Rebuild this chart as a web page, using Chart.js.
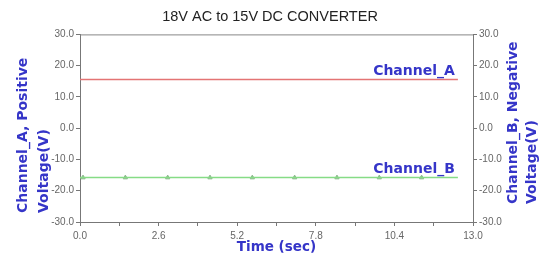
<!DOCTYPE html>
<html>
<head>
<meta charset="utf-8">
<script src="https://cdn.jsdelivr.net/npm/chart.js@4"></script>
<style>
  html, body { margin: 0; padding: 0; background: #fff; }
  #wrap { width: 540px; height: 260px; }
</style>
</head>
<body>
<div id="wrap"><canvas id="conv"></canvas></div>
<script>
const chATime = [0, 12.5];
const chAVolt = [15.6, 15.6];
const chBTime = [0, 12.5];
const chBVolt = [-15.8, -15.8];
const chBMarkTime = [0.1, 1.5, 2.9, 4.3, 5.7, 7.1, 8.5, 9.9, 11.3];
const chBMarkVolt = [-15.8, -15.8, -15.8, -15.8, -15.8, -15.8, -15.8, -15.8, -15.8];
const xTicks = [0, 1.3, 2.6, 3.9, 5.2, 6.5, 7.8, 9.1, 10.4, 11.7, 13.0];
const yTicks = [-30, -20, -10, 0, 10, 20, 30];

const blue = '#3535c8';
const labelFont = 'bold 14px "DejaVu Sans", Verdana, sans-serif';

const pts = (xs, ys) => xs.map((x, i) => ({ x: x, y: ys[i] }));

// extra texts: two-line rotated axis titles, series labels and the plot frame top
const extras = {
  id: 'extras',
  afterDraw(chart) {
    const { ctx, chartArea: a, scales } = chart;
    ctx.save();
    ctx.strokeStyle = '#888';
    ctx.lineWidth = 1;
    ctx.beginPath();
    ctx.moveTo(a.left, a.top + 0.5);
    ctx.lineTo(a.right, a.top + 0.5);
    ctx.stroke();

    ctx.fillStyle = blue;
    ctx.font = labelFont;
    ctx.textBaseline = 'middle';
    ctx.textAlign = 'left';
    const rot = (txt, x, y) => {
      ctx.save();
      ctx.translate(x, y);
      ctx.rotate(-Math.PI / 2);
      ctx.fillText(txt, 0, 0);
      ctx.restore();
    };
    rot('Channel_A, Positive', 23, 213);
    rot('Voltage(V)', 44, 213);
    rot('Channel_B, Negative', 513, 204);
    rot('Voltage(V)', 532, 204);

    ctx.textAlign = 'right';
    ctx.textBaseline = 'alphabetic';
    const xEnd = scales.x.getPixelForValue(chATime[chATime.length - 1]);
    ctx.fillText('Channel_A', xEnd - 3, scales.y.getPixelForValue(chAVolt[chAVolt.length - 1]) - 4);
    ctx.fillText('Channel_B', xEnd - 3, scales.y2.getPixelForValue(chBVolt[chBVolt.length - 1]) - 5);
    ctx.restore();
  }
};

new Chart(document.getElementById('conv'), {
  type: 'scatter',
  data: {
    datasets: [
      {
        label: 'Channel_A',
        data: pts(chATime, chAVolt),
        showLine: true,
        borderColor: '#e47474',
        borderWidth: 1.5,
        pointRadius: 0,
        yAxisID: 'y'
      },
      {
        label: 'Channel_B',
        data: pts(chBTime, chBVolt),
        showLine: true,
        borderColor: '#86dc86',
        borderWidth: 1.5,
        pointRadius: 0,
        yAxisID: 'y2'
      },
      {
        label: 'Channel_B markers',
        data: pts(chBMarkTime, chBMarkVolt),
        showLine: false,
        pointStyle: 'triangle',
        pointRadius: 2.5,
        backgroundColor: '#8fb98f',
        borderColor: '#8fb98f',
        borderWidth: 1,
        yAxisID: 'y2'
      }
    ]
  },
  options: {
    responsive: true,
    maintainAspectRatio: false,
    animation: false,
    layout: { padding: 0 },
    plugins: {
      legend: { display: false },
      tooltip: { enabled: false },
      title: {
        display: true,
        text: '18V AC to 15V DC CONVERTER',
        color: '#222',
        font: { family: '"Liberation Sans", Arial, sans-serif', size: 14.5, weight: 'normal' },
        padding: { top: 8, bottom: 9 }
      }
    },
    scales: {
      x: {
        type: 'linear',
        min: 0,
        max: 13,
        afterBuildTicks: s => { s.ticks = xTicks.map(v => ({ value: v })); },
        afterFit: s => { s.height = 38; },
        grid: { display: true, drawOnChartArea: false, tickLength: 4, color: '#777' },
        border: { color: '#777', width: 1 },
        ticks: {
          color: '#666',
          padding: 4,
          maxRotation: 0,
          autoSkip: false,
          font: { family: '"Liberation Sans", Arial, sans-serif', size: 10 },
          callback: (v, i) => (i % 2 === 0 ? v.toFixed(1) : '')
        },
        title: {
          display: true,
          text: 'Time (sec)',
          color: blue,
          font: { family: '"DejaVu Sans", Verdana, sans-serif', size: 13.5, weight: 'bold' },
          padding: { top: 0, bottom: 4 }
        }
      },
      y: {
        position: 'left',
        min: -30,
        max: 30,
        afterBuildTicks: s => { s.ticks = yTicks.map(v => ({ value: v })); },
        afterFit: s => { s.width = 80; },
        grid: { display: true, drawOnChartArea: false, tickLength: 4, color: '#777' },
        border: { color: '#777', width: 1 },
        ticks: {
          color: '#666',
          padding: 2,
          font: { family: '"Liberation Sans", Arial, sans-serif', size: 10 },
          callback: v => v.toFixed(1)
        }
      },
      y2: {
        position: 'right',
        min: -30,
        max: 30,
        afterBuildTicks: s => { s.ticks = yTicks.map(v => ({ value: v })); },
        afterFit: s => { s.width = 67; },
        grid: { display: true, drawOnChartArea: false, tickLength: 4, color: '#777' },
        border: { color: '#777', width: 1 },
        ticks: {
          color: '#666',
          padding: 2,
          font: { family: '"Liberation Sans", Arial, sans-serif', size: 10 },
          callback: v => v.toFixed(1)
        }
      }
    }
  },
  plugins: [extras]
});
</script>
</body>
</html>
